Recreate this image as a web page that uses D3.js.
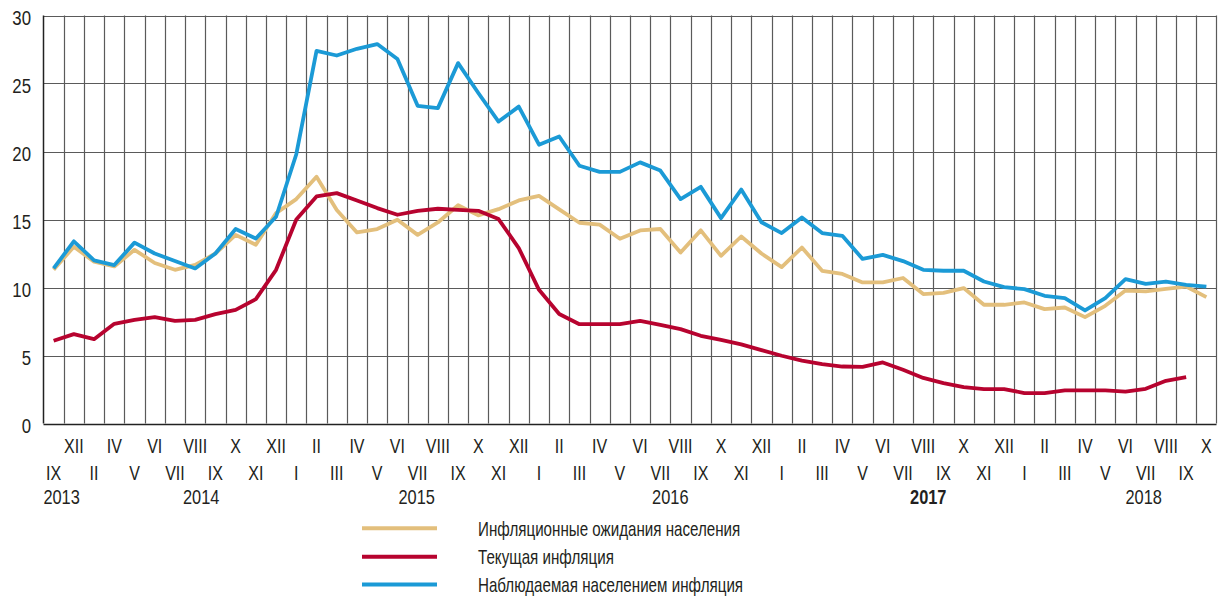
<!DOCTYPE html>
<html>
<head>
<meta charset="utf-8">
<script src="https://cdn.jsdelivr.net/npm/d3@7"></script>
<style>
  html, body { margin: 0; padding: 0; background: #fff; }
  svg { display: block; }
  text { font-family: "Liberation Sans", Arial, sans-serif; fill: #231f20; }
</style>
</head>
<body>
<svg id="chart" width="1219" height="597"></svg>
<script>
// ---- data ----
const categories = [
  "IX 2013","XII 2013",
  "II 2014","IV 2014","V 2014","VI 2014","VII 2014","VIII 2014","IX 2014","X 2014","XI 2014","XII 2014",
  "I 2015","II 2015","III 2015","IV 2015","V 2015","VI 2015","VII 2015","VIII 2015","IX 2015","X 2015","XI 2015","XII 2015",
  "I 2016","II 2016","III 2016","IV 2016","V 2016","VI 2016","VII 2016","VIII 2016","IX 2016","X 2016","XI 2016","XII 2016",
  "I 2017","II 2017","III 2017","IV 2017","V 2017","VI 2017","VII 2017","VIII 2017","IX 2017","X 2017","XI 2017","XII 2017",
  "I 2018","II 2018","III 2018","IV 2018","V 2018","VI 2018","VII 2018","VIII 2018","IX 2018","X 2018"
];

const expectations = [
  11.3, 13.0, 11.9, 11.55, 12.77, 11.8, 11.3, 11.67, 12.5, 13.87, 13.14, 15.47,
  16.5, 18.15, 15.7, 14.05, 14.3, 14.98, 13.87, 14.78, 16.05, 15.3, 15.76, 16.4,
  16.74, 15.74, 14.76, 14.62, 13.58, 14.2, 14.3, 12.57, 14.2, 12.33, 13.75, 12.5,
  11.5, 12.94, 11.23, 11.0, 10.37, 10.37, 10.7, 9.52, 9.6, 9.96, 8.73, 8.73,
  8.9, 8.41, 8.53, 7.82, 8.65, 9.78, 9.71, 9.9, 10.07, 9.29
];

const currentInflation = [
  6.08, 6.57, 6.2, 7.33, 7.62, 7.82, 7.55, 7.62, 8.04, 8.36, 9.15, 11.3,
  15.0, 16.7, 16.94, 16.4, 15.84, 15.35, 15.64, 15.79, 15.71, 15.64, 15.03, 12.9,
  9.83, 8.05, 7.3, 7.3, 7.3, 7.55, 7.26, 6.94, 6.45, 6.15, 5.82, 5.4,
  4.98, 4.63, 4.37, 4.19, 4.17, 4.49, 3.95, 3.35, 2.97, 2.68, 2.53, 2.53,
  2.24, 2.24, 2.43, 2.43, 2.43, 2.35, 2.55, 3.14, 3.41, null
];

const perceivedInflation = [
  11.4, 13.4, 12.0, 11.65, 13.3, 12.5, 11.95, 11.4, 12.5, 14.3, 13.6, 15.2,
  19.8, 27.4, 27.06, 27.55, 27.9, 26.8, 23.36, 23.19, 26.5, 24.3, 22.2, 23.3,
  20.5, 21.1, 18.95, 18.5, 18.5, 19.2, 18.6, 16.5, 17.4, 15.1, 17.2, 14.8,
  14.0, 15.15, 14.0, 13.8, 12.1, 12.4, 11.94, 11.3, 11.23, 11.23, 10.44, 10.03,
  9.88, 9.39, 9.22, 8.31, 9.22, 10.62, 10.27, 10.44, 10.2, 10.07
];

const yTicks = [0, 5, 10, 15, 20, 25, 30];

const yearLabels = ["2013", "2014", "2015", "2016", "2017", "2018"];
const yearAnchors = ["IX 2013", "VIII 2014", "VII 2015", "VII 2016", "VIII 2017", "VII 2018"];
const yearOffsets = [8, 6, -1, 10, 5, -2];
const yearBold = [false, false, false, false, true, false];

const seriesNames = [
  "Инфляционные ожидания населения",
  "Текущая инфляция",
  "Наблюдаемая населением инфляция"
];
const seriesColors = ["#e3bf7c", "#b7032f", "#1b9ad6"];
const seriesData = [expectations, currentInflation, perceivedInflation];

// ---- chart ----
const svg = d3.select("#chart");
const mLeft = 43.5, mRight = 1216.5, mTop = 15.5, mBottom = 423.5;

const x = d3.scaleBand().domain(categories).range([mLeft, mRight]).padding(0);
const y = d3.scaleLinear().domain([0, 30]).range([mBottom, mTop]);

function place(sel, fx, fy, sx) {
  sel.attr("transform", (d, i) => `translate(${fx(d, i)},${fy(d, i)}) scale(${sx},1)`);
}

const grid = svg.append("g");
grid.selectAll("line.v")
  .data(categories.slice(1))
  .join("line")
  .attr("x1", d => Math.round(x(d)) + 0.5)
  .attr("x2", d => Math.round(x(d)) + 0.5)
  .attr("y1", mTop).attr("y2", mBottom)
  .attr("stroke", "#5a5a5a").attr("stroke-width", 1.2);
grid.selectAll("line.h")
  .data(yTicks)
  .join("line")
  .attr("x1", mLeft).attr("x2", mRight)
  .attr("y1", d => Math.round(y(d)) + 0.5)
  .attr("y2", d => Math.round(y(d)) + 0.5)
  .attr("stroke", d => d === 0 ? "#222" : "#5a5a5a")
  .attr("stroke-width", d => d === 0 ? 1.5 : 1.2);
svg.append("line").attr("x1", mLeft).attr("x2", mLeft).attr("y1", mTop).attr("y2", mBottom)
  .attr("stroke", "#222").attr("stroke-width", 1.5);
svg.append("line").attr("x1", mRight).attr("x2", mRight).attr("y1", mTop).attr("y2", mBottom)
  .attr("stroke", "#5a5a5a").attr("stroke-width", 1.2);

// y labels
svg.append("g").selectAll("text")
  .data(yTicks)
  .join("text")
  .attr("text-anchor", "end")
  .attr("font-size", 21)
  .text(d => d)
  .call(place, () => 31, d => y(d) + 9.5, 0.8);

// x month labels (alternating rows)
const cx = c => x(c) + x.bandwidth() / 2;
svg.append("g").selectAll("text")
  .data(categories)
  .join("text")
  .attr("text-anchor", "middle")
  .attr("font-size", 20)
  .text(d => d.split(" ")[0])
  .call(place, d => cx(d), (d, i) => i % 2 === 1 ? 452.5 : 480, 0.8);

// year labels
svg.append("g").selectAll("text")
  .data(yearLabels)
  .join("text")
  .attr("text-anchor", "middle")
  .attr("font-size", 20)
  .attr("font-weight", (d, i) => yearBold[i] ? "bold" : "normal")
  .text(d => d)
  .call(place, (d, i) => cx(yearAnchors[i]) + yearOffsets[i], () => 503.5, 0.82);

// lines
const line = d3.line()
  .defined(d => d != null)
  .x((d, i) => cx(categories[i]))
  .y(d => y(d));

seriesData.forEach((data, k) => {
  svg.append("path")
    .datum(data)
    .attr("fill", "none")
    .attr("stroke", seriesColors[k])
    .attr("stroke-width", 3.8)
    .attr("stroke-linejoin", "round")
    .attr("d", line);
});

// legend
const legendY = [528.3, 556.7, 584.5];
const lg = svg.append("g");
lg.selectAll("line")
  .data(seriesNames)
  .join("line")
  .attr("x1", 362).attr("x2", 437)
  .attr("y1", (d, k) => legendY[k]).attr("y2", (d, k) => legendY[k])
  .attr("stroke", (d, k) => seriesColors[k]).attr("stroke-width", 4);
lg.selectAll("text")
  .data(seriesNames)
  .join("text")
  .attr("font-size", 20.5)
  .text(d => d)
  .call(place, () => 478, (d, k) => legendY[k] + 7.5, 0.74);
</script>
</body>
</html>
